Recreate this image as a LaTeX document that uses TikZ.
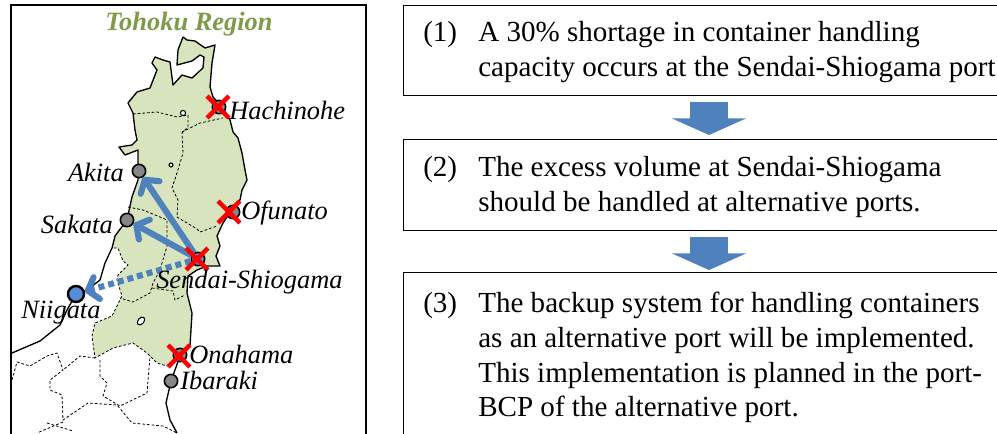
\documentclass[tikz,border=0pt]{standalone}
\usepackage{fontspec}
\setmainfont{Liberation Serif}
\usetikzlibrary{arrows.meta,shapes.misc}
\definecolor{landgreen}{HTML}{D7E4BD}
\definecolor{titlegreen}{HTML}{7F9A48}
\definecolor{flowblue}{HTML}{4F81BD}
\definecolor{nodeblue}{HTML}{558ED5}
\tikzset{
    portdot/.style={draw,circle,line width=1.2pt,fill=gray!95,inner sep=0,minimum size=10pt},
    mainport/.style={portdot,line width=1.8pt,fill=nodeblue,minimum size=12pt},
    hitmark/.style={draw=red,cross out,line width=3.4pt,inner sep=0,minimum size=13pt},
    portname/.style={font=\itshape\fontsize{19.8}{22}\selectfont,inner sep=0},
    stepbox/.style={draw,line width=0.7pt,anchor=north west,inner sep=0},
    steptext/.style={anchor=north west,inner sep=0,align=left,font=\fontsize{21.8}{26}\selectfont},
    downarrow/.style={draw=flowblue,line width=28.5pt,-{Triangle[length=12.5pt,width=55.5pt]}},
    shiftflow/.style={draw=flowblue,line width=4.6pt,-{Straight Barb[length=7pt,width=17pt,round]}},
    border/.style={line width=0.6pt,dash pattern=on 2pt off 1.5pt},
    coast/.style={line width=1pt,line join=round}
}
\begin{document}
\begin{tikzpicture}[x=0.75pt,y=-0.75pt]
        \useasboundingbox (0,0) rectangle (997,433);

        % land
        \fill[landgreen] (183,37) -- (187,40) -- (195,41) -- (205,48) -- (215,45) -- (212,63) -- (210,87) -- (213,97) -- (222,107) -- (230,120) -- (233,132) -- (238,138) -- (242,153) -- (245,170) -- (247,180) -- (242,190) -- (240,200) -- (233,208) -- (223,223) -- (217,236) -- (220,246) -- (216,256) -- (220,266) -- (207,266) -- (197,270) -- (188,276) -- (187,293) -- (192,313) -- (190,346) -- (180,356) -- (167,366) -- (157,363) -- (147,353) -- (133,343) -- (113,348) -- (95,358) -- (92,336) -- (95,323) -- (112,316) -- (122,296) -- (117,280) -- (118,275) -- (128,265) -- (123,261) -- (118,248) -- (112,248) -- (115,236) -- (127,220) -- (132,197) -- (138,180) -- (138,163) -- (138,150) -- (125,155) -- (119,147) -- (132,145) -- (137,140) -- (135,130) -- (133,113) -- (128,103) -- (137,92) -- (150,88) -- (157,70) -- (152,63) -- (155,57) -- (163,60) -- (170,62) -- (173,85) -- (182,75) -- (192,78) -- (203,68) -- (204,57) -- (200,55) -- (192,61) -- (177,65) -- (178,50) -- cycle;

        % coast
        \draw[coast] (183,37) -- (187,40) -- (195,41) -- (205,48) -- (215,45) -- (212,63) -- (210,87) -- (213,97) -- (222,107) -- (230,120) -- (233,132) -- (238,138) -- (242,153) -- (245,170) -- (247,180) -- (242,190) -- (240,200) -- (233,208) -- (223,223) -- (217,236) -- (220,246) -- (216,256) -- (220,266) -- (207,266) -- (197,270) -- (188,276) -- (187,293) -- (192,313) -- (190,346) -- (180,356) -- (171,381) -- (166,403) -- (170,420) -- (177,433);
        \draw[coast] (183,37) -- (178,50) -- (177,65) -- (192,61) -- (200,55) -- (204,57) -- (203,68) -- (192,78) -- (182,75) -- (173,85) -- (170,62) -- (163,60) -- (155,57) -- (152,63) -- (157,70) -- (150,88) -- (137,92) -- (128,103) -- (133,113) -- (135,130) -- (137,140) -- (132,145) -- (119,147) -- (125,155) -- (138,150) -- (138,163) -- (138,180) -- (132,197) -- (127,220) -- (115,236) -- (112,248) -- (105,263) -- (100,280) -- (87,290) -- (76,294) -- (67,310) -- (60,325) -- (40,341) -- (12,353);

        % prefecture borders
        \draw[border] (180,356) -- (167,366) -- (157,363) -- (147,353) -- (133,343) -- (113,348) -- (95,358) -- (92,336) -- (95,323) -- (112,316) -- (122,296) -- (117,280) -- (118,275) -- (128,265) -- (123,261) -- (118,248) -- (112,248);
        \draw[border] (133,114) -- (157,112) -- (177,117) -- (188,115) -- (188,127) -- (182,133) -- (183,153) -- (177,173) -- (172,188) -- (178,200) -- (177,217) -- (197,229) -- (200,232) -- (217,226);
        \draw[border] (182,132) -- (200,123) -- (223,118);
        \draw[border] (128,207) -- (143,210) -- (160,217) -- (167,220) -- (167,246) -- (160,270) -- (153,283) -- (150,293) -- (133,302) -- (120,298);
        \draw[border] (152,288) -- (173,291) -- (175,300) -- (185,295);
        \draw[border] (12,380) -- (17,362) -- (30,366) -- (47,356) -- (57,353) -- (63,370) -- (50,380) -- (50,390) -- (62,395) -- (63,420) -- (88,403) -- (117,405) -- (132,423) -- (163,426) -- (177,433);
        \draw[border] (95,358) -- (80,356) -- (63,370);
        \draw[border] (100,360) -- (100,376) -- (107,383) -- (103,396) -- (120,406) -- (147,393) -- (150,356);
        \draw[border] (63,422) -- (37,433);
        \draw[border] (47,423) -- (73,431);
        \draw[line width=0.8pt,fill=white] (183,113) circle (2.6);
        \draw[line width=0.8pt,fill=white] (171,165) circle (2);
        \draw[line width=0.8pt,fill=white,rotate around={50:(141,321)}] (141,321) ellipse (4.5 and 3);

        % frame
        \draw[line width=1.4pt] (11,440) -- (11,5) -- (366,5) -- (366,440);
        \node[font=\bfseries\itshape\fontsize{19.8}{22}\selectfont,color=titlegreen,inner sep=0] (title) at (189,24) {Tohoku Region};

        % ports
        \node[portdot] (hachinohe) at (219,107) {};
        \node[portdot] (akita) at (139,171) {};
        \node[portdot] (ofunato) at (233,212) {};
        \node[portdot] (sakata) at (127,220) {};
        \node[portdot,fill=nodeblue] (sendai) at (198,259) {};
        \node[mainport] (niigata) at (76,294) {};
        \node[portdot] (onahama) at (180,355) {};
        \node[portdot] (ibaraki) at (171,381) {};

        \path[shiftflow] (sendai) -- (akita);
        \path[shiftflow] (sendai) -- (sakata);
        \path[shiftflow,dash pattern=on 4.5pt off 3pt] (sendai) -- (niigata);

        \node[hitmark] (hitH) at (218,107) {};
        \node[hitmark] (hitF) at (229,212) {};
        \node[hitmark] (hitS) at (197,259) {};
        \node[hitmark] (hitO) at (179,356) {};

        \node[portname,anchor=west] (lblH) at (229,110) {Hachinohe};
        \node[portname,anchor=east] (lblA) at (124,172) {Akita};
        \node[portname,anchor=west] (lblF) at (241,213) {Ofunato};
        \node[portname,anchor=east] (lblK) at (113,224) {Sakata};
        \node[portname,anchor=west] (lblS) at (156,282) {Sendai-Shiogama};
        \node[portname,anchor=west] (lblN) at (21,313) {Niigata};
        \node[portname,anchor=west] (lblO) at (189,354) {Onahama};
        \node[portname,anchor=west] (lblI) at (180,380) {Ibaraki};

        % steps
        \node[stepbox,minimum width=450pt,minimum height=67.5pt] (box1) at (403,5) {};
        \node[stepbox,minimum width=450pt,minimum height=68pt] (box2) at (403,139) {};
        \node[stepbox,minimum width=450pt,minimum height=130pt] (box3) at (403,272) {};

        \coordinate (from1) at (709,102);
        \coordinate (to1) at (709,135);
        \coordinate (from2) at (709,237);
        \coordinate (to2) at (709,270);
        \path[downarrow] (from1) -- (to1);
        \path[downarrow] (from2) -- (to2);

        \node[steptext] (num1) at (423,21) {(1)};
        \node[steptext] (txt1) at (478,21) {A 30\% shortage in container handling\\capacity occurs at the Sendai-Shiogama port};
        \node[steptext] (num2) at (423,156) {(2)};
        \node[steptext] (txt2) at (478,156) {The excess volume at Sendai-Shiogama\\should be handled at alternative ports.};
        \node[steptext] (num3) at (423,292) {(3)};
        \node[steptext] (txt3) at (478,292) {The backup system for handling containers\\as an alternative port will be implemented.\\This implementation is planned in the port-\\BCP of the alternative port.};
    \end{tikzpicture}
\end{document}
